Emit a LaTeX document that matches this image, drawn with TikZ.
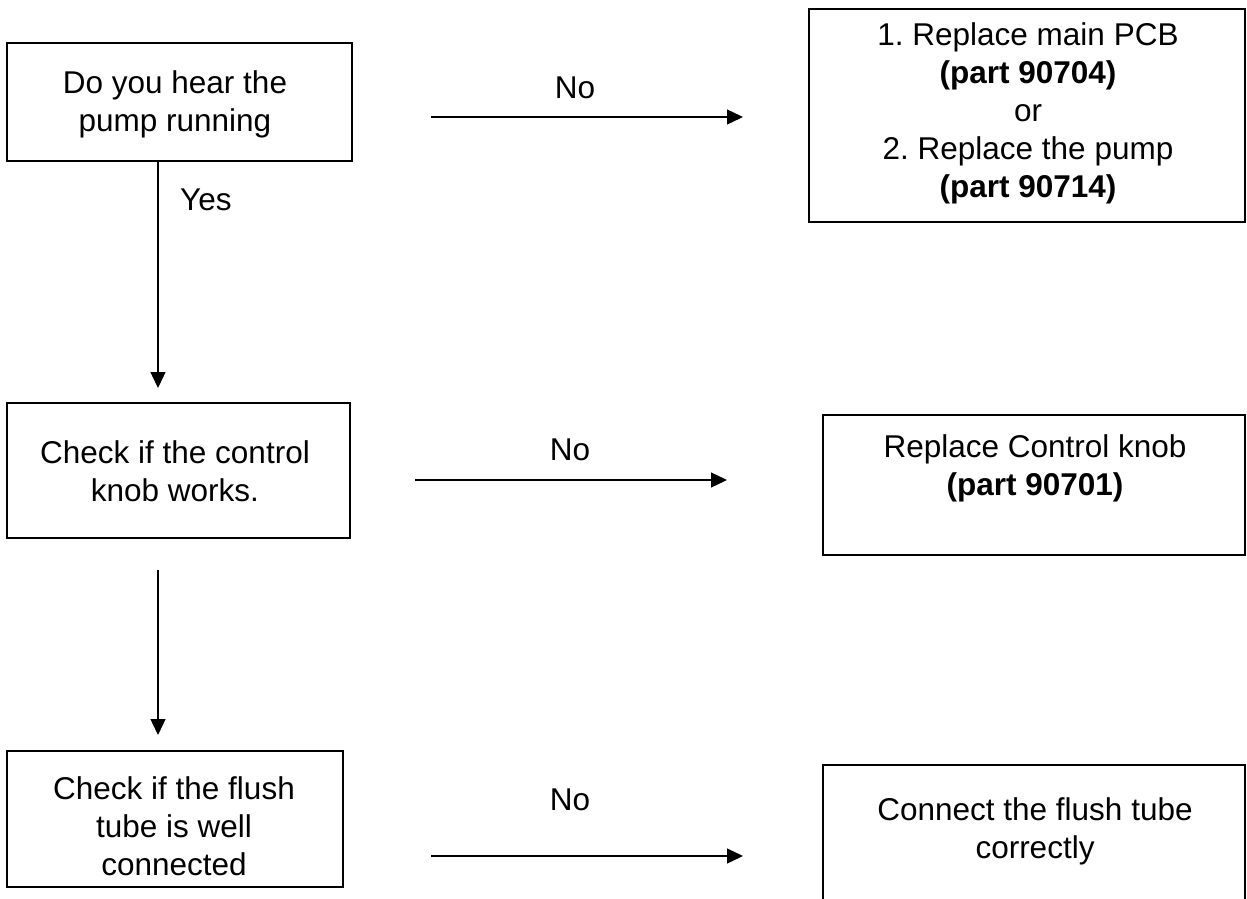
\documentclass[tikz,border=0pt]{standalone}
\usepackage{fontspec}
\setmainfont{Liberation Sans}
\usetikzlibrary{arrows.meta}
\frenchspacing
\begin{document}
\begin{tikzpicture}[x=1pt,y=-1pt,
  box/.style={draw=black,line width=1.7pt,rectangle,inner sep=0pt},
  txt/.style={align=center,inner sep=0pt,font=\fontsize{31.5}{38}\selectfont},
  conn/.style={line width=1.3pt,-{Triangle[length=16pt,width=15pt]}}]
\useasboundingbox[fill=white] (0,0) rectangle (1247,898);
% left boxes
\node[box,minimum width=345pt,minimum height=118pt] (b1) at (179.5,102) {};
\node[txt] (t1) at (175,104.5) {Do you hear the\\pump running};
\node[box,minimum width=343pt,minimum height=135pt] (b2) at (178.5,470.5) {};
\node[txt] (t2) at (175,471) {Check if the control\\knob works.};
\node[box,minimum width=336pt,minimum height=136pt] (b3) at (175,819) {};
\node[txt] (t3) at (174,826) {Check if the flush\\tube is well\\connected};
% right boxes
\node[box,minimum width=436pt,minimum height=213pt] (r1) at (1027,115.5) {};
\node[txt] (s1) at (1028,113) {1. Replace main PCB\\\textbf{(part 90704)}\\or\\2. Replace the pump\\\textbf{(part 90714)}};
\node[box,minimum width=422pt,minimum height=140pt] (r2) at (1034,485) {};
\node[txt] (s2) at (1035,468) {Replace Control knob\\\textbf{(part 90701)}};
\coordinate (r3a) at (823,905);
\coordinate (r3b) at (823,765);
\coordinate (r3c) at (1245,765);
\coordinate (r3d) at (1245,905);
\draw[line width=1.7pt] (r3a) -- (r3b) -- (r3c) -- (r3d);
\node[txt] (s3) at (1035,831) {Connect the flush tube\\correctly};
% arrows
\coordinate (a1s) at (431,117);
\coordinate (a1e) at (743,117);
\draw[conn] (a1s) -- (a1e);
\node[txt] (n1) at (575,88) {No};
\coordinate (a2s) at (415,480);
\coordinate (a2e) at (727,480);
\draw[conn] (a2s) -- (a2e);
\node[txt] (n2) at (570,450) {No};
\coordinate (a3s) at (431,856);
\coordinate (a3e) at (743,856);
\draw[conn] (a3s) -- (a3e);
\node[txt] (n3) at (570,800) {No};
\coordinate (v1e) at (158,388);
\draw[conn] (b1.south -| v1e) -- (v1e);
\node[txt,anchor=west] (y1) at (180,200) {Yes};
\coordinate (v2s) at (158,570);
\coordinate (v2e) at (158,735);
\draw[conn] (v2s) -- (v2e);
\end{tikzpicture}
\end{document}
